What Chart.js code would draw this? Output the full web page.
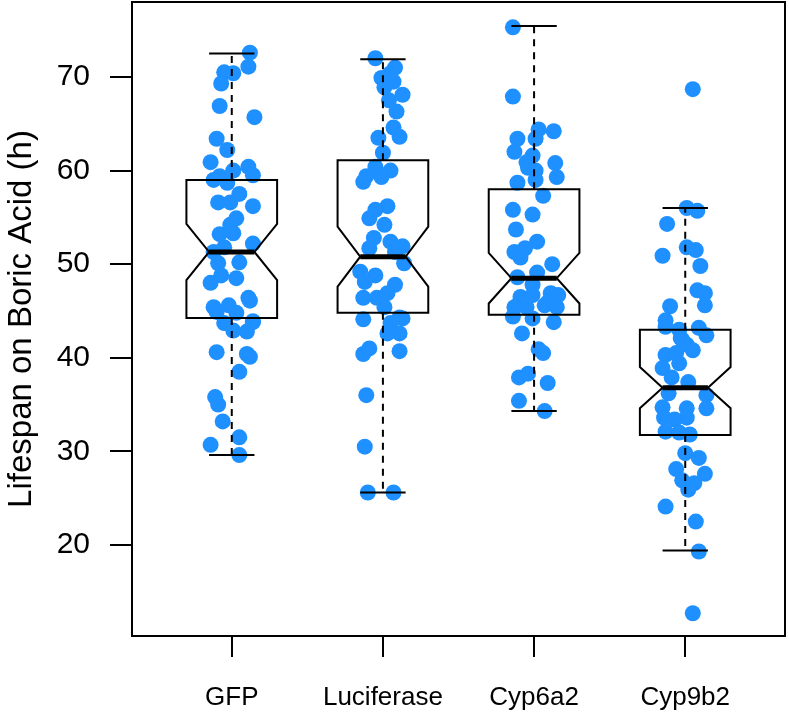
<!DOCTYPE html>
<html>
<head>
<meta charset="utf-8">
<script src="https://cdn.jsdelivr.net/npm/chart.js@4/dist/chart.umd.min.js"></script>
<style>
  html, body { margin: 0; padding: 0; background: #fff; }
  canvas { display: block; }
</style>
</head>
<body>
<canvas id="chart" width="789" height="717"></canvas>
<script>
const groups = ['GFP', 'Luciferase', 'Cyp6a2', 'Cyp9b2'];
const yTicks = [20, 30, 40, 50, 60, 70];

// box stats
const whiskerLow = [29.6, 25.6, 34.3, 19.4];
const q1 = [44.25, 44.8, 44.6, 31.75];
const median = [51.3, 50.8, 48.5, 36.8];
const q3 = [59.0, 61.1, 58.0, 43.0];
const whiskerHigh = [72.5, 71.9, 75.45, 56.0];
const notchHalf = [3.0, 3.2, 2.7, 2.2];

// individual lifespans and their horizontal jitter
const gfpValues = [72.6, 71.1, 70.5, 70.4, 69.3, 66.9, 65.7, 63.4, 62.2, 60.9, 60.0, 60.4, 59.5, 59.0, 59.4, 58.7, 57.5, 56.6, 56.6, 56.2, 54.9, 54.2, 53.2, 53.3, 52.2, 51.3, 51.8, 50.1, 50.2, 48.8, 48.5, 48.0, 46.4, 45.4, 45.6, 44.9, 44.8, 43.8, 43.7, 46.1, 43.9, 42.9, 42.8, 40.6, 40.4, 40.1, 38.5, 35.8, 35.0, 33.2, 31.5, 30.7, 29.6];
const gfpJitter = [0.12, 0.11, -0.05, 0.01, -0.07, -0.08, 0.15, -0.10, -0.03, -0.14, 0.01, 0.11, 0.14, -0.12, -0.08, -0.03, 0.05, -0.09, -0.01, 0.14, 0.03, -0.01, -0.08, 0.01, 0.14, -0.12, -0.05, -0.09, 0.05, -0.07, 0.03, -0.14, 0.11, -0.12, -0.02, -0.10, 0.03, 0.14, -0.05, 0.12, 0.14, 0.01, 0.10, -0.10, 0.10, 0.12, 0.05, -0.11, -0.09, -0.06, 0.05, -0.14, 0.05];

const lucValues = [72.0, 71.0, 70.4, 69.9, 69.5, 68.9, 68.1, 67.5, 66.3, 64.6, 63.6, 63.5, 61.9, 60.4, 60.0, 59.4, 59.3, 58.8, 56.2, 55.8, 54.9, 54.2, 52.8, 52.4, 51.9, 51.7, 51.3, 50.1, 49.2, 48.8, 48.1, 47.8, 46.9, 46.4, 46.4, 45.4, 44.1, 44.3, 43.7, 44.2, 42.6, 42.6, 40.7, 41.0, 40.4, 36.0, 30.5, 25.6, 25.6];
const lucJitter = [-0.05, 0.08, 0.05, -0.01, 0.07, 0.01, 0.13, 0.04, 0.09, 0.07, 0.11, -0.03, 0.0, -0.05, 0.05, -0.11, -0.01, -0.13, 0.03, -0.05, -0.09, 0.01, -0.06, 0.05, 0.13, -0.09, 0.08, 0.14, -0.15, -0.05, -0.12, 0.08, 0.03, -0.13, -0.04, 0.01, -0.13, 0.11, 0.05, 0.13, 0.03, 0.11, 0.11, -0.09, -0.13, -0.11, -0.12, -0.10, 0.07];

const cyp6Values = [75.3, 67.9, 64.4, 64.2, 63.4, 63.4, 62.0, 61.6, 60.9, 60.8, 60.0, 60.3, 59.3, 58.7, 59.0, 57.3, 55.8, 55.3, 53.7, 52.4, 51.3, 51.7, 50.7, 50.0, 48.6, 49.1, 47.8, 46.5, 46.9, 46.7, 46.7, 45.6, 45.9, 45.4, 45.4, 45.6, 45.4, 44.4, 44.2, 43.8, 42.6, 40.9, 40.5, 37.9, 38.3, 37.3, 35.4, 34.3];
const cyp6Jitter = [-0.14, -0.14, 0.03, 0.13, -0.11, 0.01, -0.13, -0.01, -0.05, 0.14, 0.01, -0.04, 0.15, -0.11, 0.01, 0.06, -0.14, -0.01, -0.12, 0.02, -0.13, -0.06, -0.09, 0.12, -0.11, 0.02, -0.01, -0.09, 0.11, 0.16, -0.01, -0.11, 0.09, -0.13, -0.05, 0.07, 0.15, -0.14, -0.01, 0.13, -0.08, 0.03, 0.06, -0.10, -0.04, 0.09, -0.10, 0.07];

const cyp9Values = [68.7, 56.0, 55.7, 54.3, 51.8, 51.5, 50.9, 49.8, 47.2, 46.9, 45.6, 45.5, 44.0, 43.3, 43.0, 43.2, 42.4, 42.1, 41.4, 40.3, 40.5, 40.8, 41.9, 39.4, 38.9, 37.9, 37.4, 36.2, 36.0, 34.7, 34.6, 34.6, 33.6, 33.6, 33.4, 32.1, 32.0, 31.8, 29.8, 29.3, 28.1, 27.6, 26.9, 26.6, 25.9, 24.1, 22.5, 19.3, 12.7];
const cyp9Jitter = [0.05, 0.01, 0.08, -0.12, 0.01, 0.07, -0.15, 0.10, 0.08, 0.13, 0.13, -0.10, -0.13, -0.13, -0.04, 0.09, 0.14, -0.03, 0.01, -0.13, -0.06, 0.05, -0.02, -0.04, -0.15, -0.09, 0.02, -0.11, 0.14, -0.15, 0.01, 0.14, -0.14, 0.01, -0.07, -0.13, -0.04, 0.03, 0.0, 0.09, -0.06, 0.13, -0.02, 0.06, 0.02, -0.13, 0.07, 0.09, 0.05];

const values = [gfpValues, lucValues, cyp6Values, cyp9Values];
const jitter = [gfpJitter, lucJitter, cyp6Jitter, cyp9Jitter];

const points = [];
values.forEach((vals, g) => {
    vals.forEach((v, i) => points.push({ x: g + 1 + jitter[g][i], y: v }));
});

// notched boxes, whiskers and the frame, drawn through the chart's scales
const boxPlugin = {
    id: 'boxes',
    afterDatasetsDraw(chart) {
        const { ctx, chartArea, scales: { x, y } } = chart;
        const halfW = 0.3, notchW = 0.15, capW = 0.15;
        ctx.save();
        ctx.strokeStyle = '#000';
        groups.forEach((_, i) => {
            const c = i + 1;
            const xl = x.getPixelForValue(c - halfW);
            const xr = x.getPixelForValue(c + halfW);
            const nl = x.getPixelForValue(c - notchW);
            const nr = x.getPixelForValue(c + notchW);
            const xc = x.getPixelForValue(c);
            const yq1 = y.getPixelForValue(q1[i]);
            const yq3 = y.getPixelForValue(q3[i]);
            const ym = y.getPixelForValue(median[i]);
            const ynh = y.getPixelForValue(median[i] + notchHalf[i]);
            const ynl = y.getPixelForValue(median[i] - notchHalf[i]);

            // whiskers
            ctx.lineWidth = 2;
            ctx.setLineDash([7, 6]);
            ctx.beginPath();
            ctx.moveTo(xc, yq3);
            ctx.lineTo(xc, y.getPixelForValue(whiskerHigh[i]));
            ctx.moveTo(xc, yq1);
            ctx.lineTo(xc, y.getPixelForValue(whiskerLow[i]));
            ctx.stroke();
            ctx.setLineDash([]);
            ctx.beginPath();
            [whiskerHigh[i], whiskerLow[i]].forEach(w => {
                const yy = y.getPixelForValue(w);
                ctx.moveTo(x.getPixelForValue(c - capW), yy);
                ctx.lineTo(x.getPixelForValue(c + capW), yy);
            });
            ctx.stroke();

            // notched box
            ctx.beginPath();
            ctx.moveTo(xl, yq3);
            ctx.lineTo(xr, yq3);
            ctx.lineTo(xr, ynh);
            ctx.lineTo(nr, ym);
            ctx.lineTo(xr, ynl);
            ctx.lineTo(xr, yq1);
            ctx.lineTo(xl, yq1);
            ctx.lineTo(xl, ynl);
            ctx.lineTo(nl, ym);
            ctx.lineTo(xl, ynh);
            ctx.closePath();
            ctx.stroke();

            // median
            ctx.lineWidth = 5;
            ctx.beginPath();
            ctx.moveTo(nl, ym);
            ctx.lineTo(nr, ym);
            ctx.stroke();
        });
        ctx.lineWidth = 2;
        ctx.strokeRect(chartArea.left, chartArea.top, chartArea.right - chartArea.left, chartArea.bottom - chartArea.top);
        ctx.restore();
    }
};

const yTitlePlugin = {
    id: 'yTitle',
    afterDraw(chart) {
        const { ctx, chartArea } = chart;
        ctx.save();
        ctx.translate(22, (chartArea.top + chartArea.bottom) / 2);
        ctx.rotate(-Math.PI / 2);
        ctx.font = '33px "Liberation Sans", Arial, sans-serif';
        ctx.fillStyle = '#000';
        ctx.textAlign = 'center';
        ctx.textBaseline = 'middle';
        ctx.fillText('Lifespan on Boric Acid (h)', 0, 0);
        ctx.restore();
    }
};

const noPad = scale => {
    scale.paddingTop = 0;
    scale.paddingBottom = 0;
    scale.paddingLeft = 0;
    scale.paddingRight = 0;
};

new Chart(document.getElementById('chart'), {
    type: 'scatter',
    data: {
        datasets: [{
            data: points,
            backgroundColor: '#1e90ff',
            borderWidth: 0,
            pointRadius: 8,
            pointHoverRadius: 8
        }]
    },
    options: {
        responsive: false,
        animation: false,
        layout: { autoPadding: false, padding: { top: 2, right: 4, left: 0, bottom: 0 } },
        plugins: { legend: { display: false }, tooltip: { enabled: false } },
        scales: {
            x: {
                type: 'linear',
                min: 0.34,
                max: 4.66,
                afterBuildTicks: scale => { scale.ticks = groups.map((_, i) => ({ value: i + 1 })); },
                afterFit: scale => { scale.height = 81; noPad(scale); },
                ticks: {
                    callback: v => groups[v - 1],
                    color: '#000',
                    font: { family: '"Liberation Sans", Arial, sans-serif', size: 26 },
                    padding: 25,
                    maxRotation: 0,
                    autoSkip: false
                },
                grid: { drawOnChartArea: false, drawTicks: true, tickLength: 21, color: '#000', lineWidth: 2 },
                border: { display: false }
            },
            y: {
                min: 10.27,
                max: 78.01,
                afterBuildTicks: scale => { scale.ticks = yTicks.map(v => ({ value: v })); },
                afterFit: scale => { scale.width = 132; noPad(scale); },
                ticks: {
                    color: '#000',
                    font: { family: '"Liberation Sans", Arial, sans-serif', size: 30 },
                    padding: 20
                },
                grid: { drawOnChartArea: false, drawTicks: true, tickLength: 22, color: '#000', lineWidth: 2 },
                border: { display: false }
            }
        }
    },
    plugins: [boxPlugin, yTitlePlugin]
});
</script>
</body>
</html>
